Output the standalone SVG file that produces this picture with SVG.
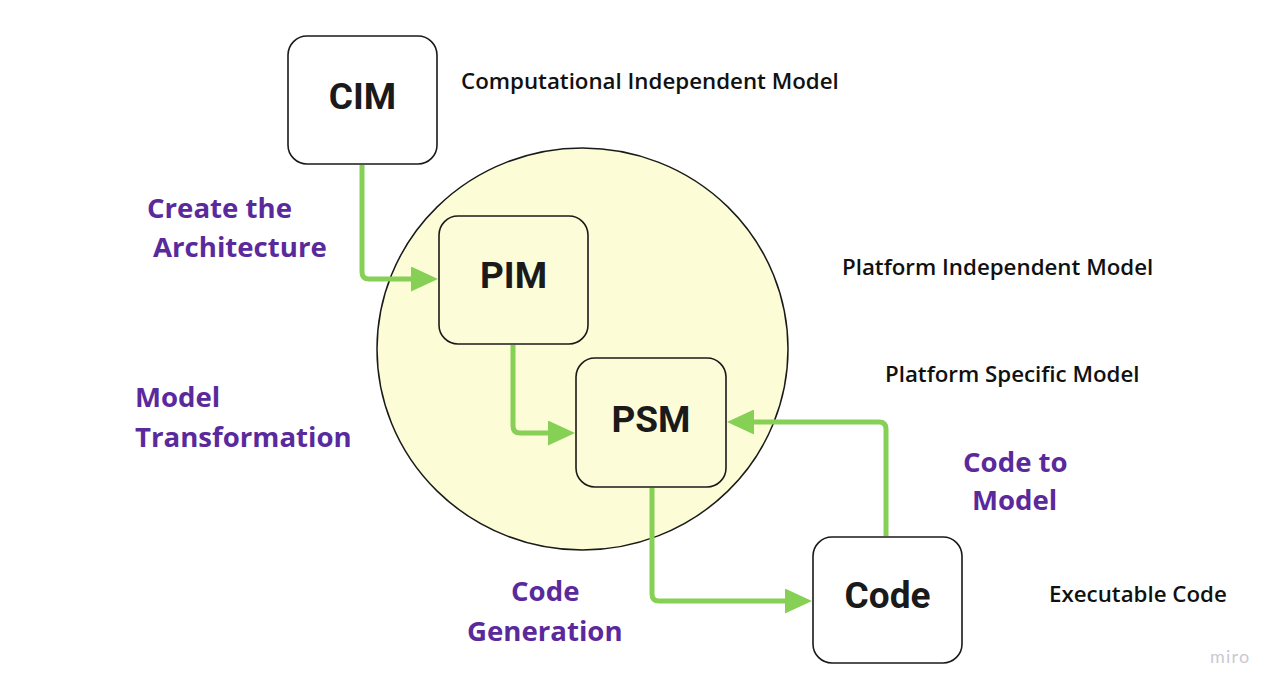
<svg xmlns="http://www.w3.org/2000/svg" width="1280" height="692" viewBox="0 0 1280 692">
<defs>
<style>
.node{fill:#ffffff;stroke:#1a1a1a;stroke-width:1.6}
.inner{fill:#fcfcd9}
.nt{font-family:Roboto,"Liberation Sans",sans-serif;font-weight:700;font-size:37px;fill:#1a1a1a;text-anchor:middle}
.desc{font-family:"Open Sans","Noto Sans",sans-serif;font-weight:600;font-size:22.3px;fill:#111111}
.act{font-family:"Open Sans","Noto Sans",sans-serif;font-weight:700;font-size:27.6px;fill:#5a2a9c}
.conn{fill:none;stroke:#86d056;stroke-width:5;stroke-linejoin:round;stroke-linecap:butt}
</style>
<marker id="ah" viewBox="0 0 27 25" refX="1" refY="12.5" markerWidth="27" markerHeight="25" markerUnits="userSpaceOnUse" orient="auto">
<path d="M0,0 L27,12.5 L0,25 Z" fill="#86d056"/>
</marker>
</defs>
<rect width="1280" height="692" fill="#ffffff"/>
<g id="scope">
<ellipse cx="582.5" cy="349" rx="205.5" ry="201" fill="#fcfcd6" stroke="#1a1a1a" stroke-width="1.5"/>
</g>
<g id="connectors">
<path class="conn" d="M362,165 V272 Q362,279 369,279 H412" marker-end="url(#ah)"/>
<path class="conn" d="M513,345 V426 Q513,433 520,433 H549" marker-end="url(#ah)"/>
<path class="conn" d="M652,488 V594 Q652,601 659,601 H786" marker-end="url(#ah)"/>
<path class="conn" d="M886,536 V429 Q886,422 879,422 H753" marker-end="url(#ah)"/>
</g>
<g id="cim">
<rect class="node" x="288" y="36" width="149" height="128" rx="19"/>
<text class="nt" x="362.5" y="109">CIM</text>
</g>
<g id="pim">
<rect class="node inner" x="439" y="216" width="149" height="128" rx="19"/>
<text class="nt" x="513.5" y="288">PIM</text>
</g>
<g id="psm">
<rect class="node inner" x="576" y="358" width="150" height="129" rx="19"/>
<text class="nt" x="651" y="432">PSM</text>
</g>
<g id="code">
<rect class="node" x="813" y="537" width="149" height="126" rx="19"/>
<text class="nt" x="887.5" y="608">Code</text>
</g>
<g id="labels">
<text class="desc" x="461" y="89">Computational Independent Model</text>
<text class="desc" x="842" y="275">Platform Independent Model</text>
<text class="desc" x="885" y="382">Platform Specific Model</text>
<text class="desc" x="1049" y="602">Executable Code</text>
<text class="act" x="147" y="218">Create the</text>
<text class="act" x="153" y="257">Architecture</text>
<text class="act" x="135" y="407">Model</text>
<text class="act" x="135" y="447">Transformation</text>
<text class="act" x="511" y="601">Code</text>
<text class="act" x="467" y="641">Generation</text>
<text class="act" x="963" y="472">Code to</text>
<text class="act" x="972" y="510">Model</text>
<text x="1210" y="663" font-family="Lato,'Open Sans',sans-serif" font-size="18" fill="#c9c9d2" letter-spacing="1.2">miro</text>
</g>
</svg>
